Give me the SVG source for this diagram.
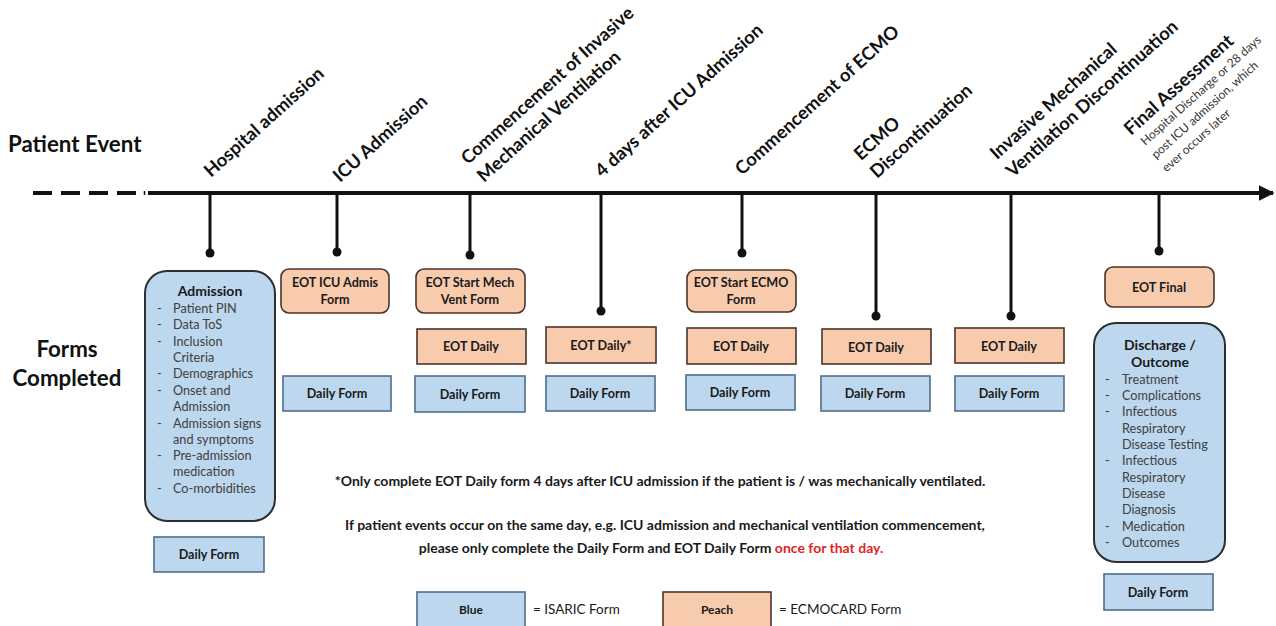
<svg xmlns="http://www.w3.org/2000/svg" width="1276" height="626" viewBox="0 0 1276 626">
<defs>
<style>
text{font-family:Lato,"Open Sans","Liberation Sans",sans-serif;}
.ev{font-size:18.3px;font-weight:700;fill:#111;}
.sub{font-size:12px;font-weight:400;fill:#333;}
.hd{font-size:22.3px;font-weight:700;fill:#111;}
.bx{font-size:12.6px;font-weight:700;fill:#1a1a1a;text-anchor:middle;}
.ttl{font-size:14px;font-weight:700;fill:#1a1a1a;text-anchor:middle;}
.li{font-size:12.7px;font-weight:400;fill:#404040;}
.note{font-size:14px;font-weight:700;fill:#1a1a1a;text-anchor:middle;}
.leg{font-size:13.5px;font-weight:400;fill:#1a1a1a;}
.blue{fill:#BDD7EE;stroke:#4E6E8E;stroke-width:1.6;}
.peach{fill:#F8CBAD;stroke:#4A3528;stroke-width:1.6;}
.bigb{fill:#BDD7EE;stroke:#2E2E2E;stroke-width:2;}
.tick{stroke:#111;stroke-width:3;fill:none;}
.dot{fill:#111;}
</style>
<marker id="arr" viewBox="0 0 10 10" refX="9" refY="5" markerWidth="4" markerHeight="4" orient="auto" markerUnits="strokeWidth">
<path d="M0,0 L10,5 L0,10 z" fill="#111"/>
</marker>
</defs>
<rect width="1276" height="626" fill="#fff"/>

<text class="hd" x="8" y="152">Patient Event</text>
<text class="hd" x="67" y="357" text-anchor="middle">Forms</text>
<text class="hd" x="67" y="386" text-anchor="middle">Completed</text>

<g id="connectors">
<line x1="33" y1="193" x2="137" y2="193" stroke="#111" stroke-width="4" stroke-dasharray="19,9"/>
<line x1="144.5" y1="191" x2="144.5" y2="195" stroke="#111" stroke-width="1.5"/>
<line x1="148" y1="193" x2="1273" y2="193" stroke="#111" stroke-width="4" marker-end="url(#arr)"/>
<line class="tick" x1="210" y1="193" x2="210" y2="253"/><circle class="dot" cx="210" cy="253" r="4.5"/>
<line class="tick" x1="337" y1="193" x2="337" y2="252"/><circle class="dot" cx="337" cy="252" r="4.5"/>
<line class="tick" x1="470" y1="193" x2="470" y2="255"/><circle class="dot" cx="470" cy="255" r="4.5"/>
<line class="tick" x1="601" y1="193" x2="601" y2="311"/><circle class="dot" cx="601" cy="311" r="4.5"/>
<line class="tick" x1="742" y1="193" x2="742" y2="253"/><circle class="dot" cx="742" cy="253" r="4.5"/>
<line class="tick" x1="876" y1="193" x2="876" y2="316"/><circle class="dot" cx="876" cy="316" r="4.5"/>
<line class="tick" x1="1011" y1="193" x2="1011" y2="316"/><circle class="dot" cx="1011" cy="316" r="4.5"/>
<line class="tick" x1="1159" y1="193" x2="1159" y2="251"/><circle class="dot" cx="1159" cy="251" r="4.5"/>
</g>

<g id="event-labels">
<text class="ev" transform="translate(211,178) rotate(-42)">Hospital admission</text>
<text class="ev" transform="translate(340,183) rotate(-42)">ICU Admission</text>
<text class="ev" transform="translate(484,183) rotate(-42)"><tspan x="0" y="-24">Commencement of Invasive</tspan><tspan x="0" y="0">Mechanical Ventilation</tspan></text>
<text class="ev" transform="translate(602,178) rotate(-42)">4 days after ICU Admission</text>
<text class="ev" transform="translate(742,176) rotate(-42)">Commencement of ECMO</text>
<text class="ev" transform="translate(877,179) rotate(-42)"><tspan x="0" y="-24">ECMO</tspan><tspan x="0" y="0">Discontinuation</tspan></text>
<text class="ev" transform="translate(1013,178) rotate(-42)"><tspan x="0" y="-24">Invasive Mechanical</tspan><tspan x="0" y="0">Ventilation Discontinuation</tspan></text>
<g transform="translate(1131,136) rotate(-42)">
<text class="ev" x="0" y="0">Final Assessment</text>
<text class="sub"><tspan x="4" y="17">Hospital Discharge or 28 days</tspan><tspan x="3" y="34">post ICU admission, which</tspan><tspan x="2" y="51">ever occurs later</tspan></text>
</g>
</g>

<g id="admission">
<rect class="bigb" x="145" y="271" width="130" height="250" rx="22"/>
<text class="ttl" x="210" y="296">Admission</text>
<g class="li">
<text x="157" y="313">-</text><text x="173" y="313">Patient PIN</text>
<text x="157" y="329">-</text><text x="173" y="329">Data ToS</text>
<text x="157" y="346">-</text><text x="173" y="346">Inclusion</text>
<text x="173" y="362">Criteria</text>
<text x="157" y="378">-</text><text x="173" y="378">Demographics</text>
<text x="157" y="395">-</text><text x="173" y="395">Onset and</text>
<text x="173" y="411">Admission</text>
<text x="157" y="428">-</text><text x="173" y="428">Admission signs</text>
<text x="173" y="444">and symptoms</text>
<text x="157" y="460">-</text><text x="173" y="460">Pre-admission</text>
<text x="173" y="476">medication</text>
<text x="157" y="493">-</text><text x="173" y="493">Co-morbidities</text>
</g>
</g>
<g id="daily-hosp"><rect class="blue" x="154" y="537" width="110" height="35"/><text class="bx" x="209" y="559">Daily Form</text></g>

<g id="eot-icu"><rect class="peach" x="281" y="269" width="108" height="44" rx="8"/><text class="bx" x="335" y="287">EOT ICU Admis</text><text class="bx" x="335" y="304">Form</text></g>
<g id="daily-icu"><rect class="blue" x="283" y="376" width="108" height="35"/><text class="bx" x="337" y="398">Daily Form</text></g>

<g id="eot-mv"><rect class="peach" x="416" y="269" width="109" height="44" rx="8"/><text class="bx" x="470" y="287">EOT Start Mech</text><text class="bx" x="470" y="304">Vent Form</text></g>
<g id="eotd-mv"><rect class="peach" x="417" y="329" width="109" height="35"/><text class="bx" x="471" y="351">EOT Daily</text></g>
<g id="daily-mv"><rect class="blue" x="415" y="376" width="110" height="36"/><text class="bx" x="470" y="399">Daily Form</text></g>

<g id="eotd-4d"><rect class="peach" x="546" y="327" width="110" height="36"/><text class="bx" x="601" y="350">EOT Daily*</text></g>
<g id="daily-4d"><rect class="blue" x="546" y="376" width="109" height="35"/><text class="bx" x="600" y="398">Daily Form</text></g>

<g id="eot-ecmo"><rect class="peach" x="687" y="270" width="109" height="42" rx="8"/><text class="bx" x="741" y="287">EOT Start ECMO</text><text class="bx" x="741" y="304">Form</text></g>
<g id="eotd-ecmo"><rect class="peach" x="687" y="328" width="109" height="36"/><text class="bx" x="741" y="351">EOT Daily</text></g>
<g id="daily-ecmo"><rect class="blue" x="686" y="375" width="109" height="35"/><text class="bx" x="740" y="397">Daily Form</text></g>

<g id="eotd-ecmod"><rect class="peach" x="822" y="329" width="109" height="35"/><text class="bx" x="876" y="352">EOT Daily</text></g>
<g id="daily-ecmod"><rect class="blue" x="821" y="376" width="109" height="35"/><text class="bx" x="875" y="398">Daily Form</text></g>

<g id="eotd-imvd"><rect class="peach" x="955" y="328" width="109" height="35"/><text class="bx" x="1009" y="351">EOT Daily</text></g>
<g id="daily-imvd"><rect class="blue" x="955" y="376" width="109" height="35"/><text class="bx" x="1009" y="398">Daily Form</text></g>

<g id="eot-final"><rect class="peach" x="1105" y="267" width="109" height="40" rx="8"/><text class="bx" x="1159" y="292">EOT Final</text></g>
<g id="discharge">
<rect class="bigb" x="1094" y="323" width="131" height="239" rx="22"/>
<text class="ttl" x="1160" y="350">Discharge /</text>
<text class="ttl" x="1160" y="367">Outcome</text>
<g class="li">
<text x="1105" y="384">-</text><text x="1122" y="384">Treatment</text>
<text x="1105" y="400">-</text><text x="1122" y="400">Complications</text>
<text x="1105" y="416">-</text><text x="1122" y="416">Infectious</text>
<text x="1122" y="433">Respiratory</text>
<text x="1122" y="449">Disease Testing</text>
<text x="1105" y="465">-</text><text x="1122" y="465">Infectious</text>
<text x="1122" y="482">Respiratory</text>
<text x="1122" y="498">Disease</text>
<text x="1122" y="514">Diagnosis</text>
<text x="1105" y="531">-</text><text x="1122" y="531">Medication</text>
<text x="1105" y="547">-</text><text x="1122" y="547">Outcomes</text>
</g>
</g>
<g id="daily-final"><rect class="blue" x="1104" y="574" width="109" height="36"/><text class="bx" x="1158" y="597">Daily Form</text></g>

<g id="notes">
<text class="note" x="660" y="486">*Only complete EOT Daily form 4 days after ICU admission if the patient is / was mechanically ventilated.</text>
<text class="note" x="665" y="530">If patient events occur on the same day, e.g. ICU admission and mechanical ventilation commencement,</text>
<text class="note" x="651" y="553">please only complete the Daily Form and EOT Daily Form <tspan fill="#E02424">once for that day.</tspan></text>
</g>

<g id="legend">
<rect class="blue" x="417" y="592" width="108" height="38"/><text class="bx" x="471" y="614" style="font-size:12px">Blue</text>
<text class="leg" x="533" y="614">= ISARIC Form</text>
<rect class="peach" x="663" y="592" width="108" height="38"/><text class="bx" x="717" y="614" style="font-size:12px">Peach</text>
<text class="leg" x="779" y="614">= ECMOCARD Form</text>
</g>
</svg>
